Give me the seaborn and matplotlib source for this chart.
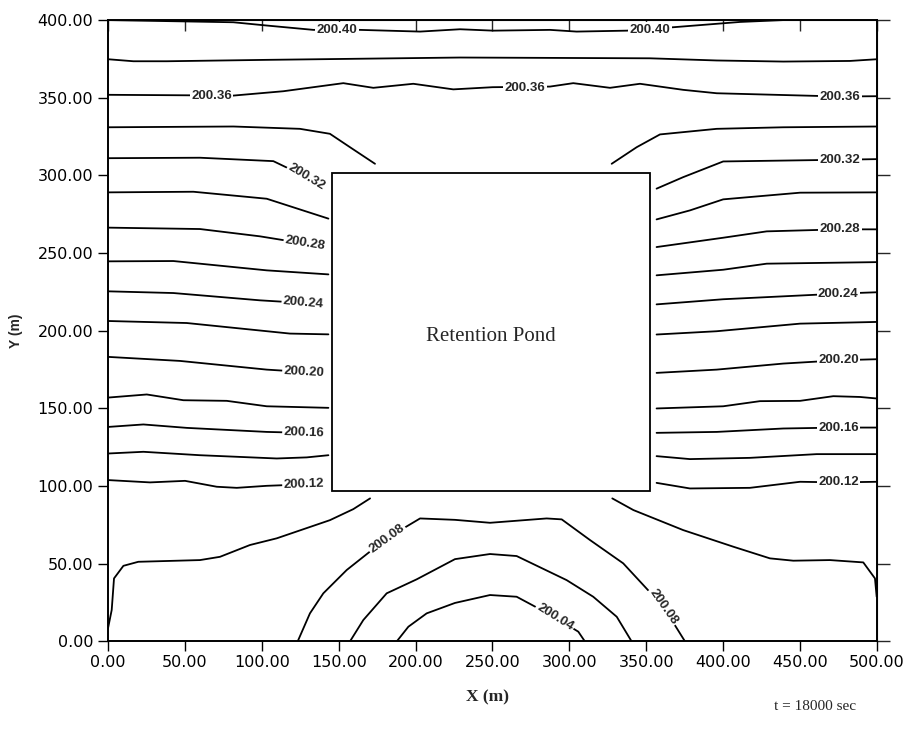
import numpy as np
import pandas as pd
import matplotlib
matplotlib.use("Agg")
import matplotlib.pyplot as plt
from matplotlib.patches import Rectangle
import seaborn as sns

# ---- contour lines (X, Y in metres) ----
c2040_x = [0, 81.5, 103.2, 133.5, 163.8, 202.9, 228.9, 250.5, 287.4, 304.7, 337.3, 367.6, 410.9, 439, 500]
c2040_y = [400, 398.6, 396.5, 393.7, 393.7, 392.6, 394.1, 393.2, 393.7, 392.6, 393.2, 395.4, 398.8, 400, 400]

c2038_x = [0, 16.5, 38.2, 103.2, 228.9, 352.4, 395.8, 439.1, 482.4, 500]
c2038_y = [374.8, 373.5, 373.5, 374.4, 375.9, 375.4, 374.0, 373.3, 373.7, 374.8]

c2036_x = [0, 81.5, 114, 153, 172.5, 198.5, 224.5, 250, 287.4, 302.5, 326.4, 345.9, 374, 395.8, 475.9, 500]
c2036_y = [351.9, 351.4, 354.2, 359.4, 356.4, 359.0, 355.4, 356.8, 357.2, 359.4, 356.4, 359.0, 355.1, 352.9, 350.8, 351.0]

c2034a_x = [0, 81.5, 124.8, 144.3, 157.3, 173.6]
c2034a_y = [331.0, 331.5, 330.0, 326.8, 318.2, 307.5]
c2034b_x = [327.5, 343.8, 358.9, 395.8, 439.1, 500]
c2034b_y = [307.5, 318.2, 326.4, 330.0, 331.0, 331.5]

c2032a_x = [0, 59.8, 107.5, 129.2]
c2032a_y = [311.1, 311.4, 309.2, 298.9]
c2032b_x = [356.7, 374, 400, 475.9, 500]
c2032b_y = [291.5, 298.9, 309.0, 310.1, 310.5]

c2030a_x = [0, 55.5, 103.2, 143.3]
c2030a_y = [289.1, 289.5, 285.0, 272.2]
c2030b_x = [356.7, 378.4, 400, 450, 500]
c2030b_y = [271.7, 277.5, 284.6, 288.9, 289.1]

c2028a_x = [0, 59.8, 98.8, 128.1]
c2028a_y = [266.4, 265.5, 260.8, 256.1]
c2028b_x = [356.7, 400, 428.3, 475.9, 500]
c2028b_y = [253.9, 259.9, 264.0, 265.3, 265.3]

c2026a_x = [0, 42.5, 103.2, 143.3]
c2026a_y = [244.7, 244.9, 238.9, 236.3]
c2026b_x = [356.7, 400, 428.3, 500]
c2026b_y = [235.7, 239.3, 243.2, 244.2]

c2024a_x = [0, 42.5, 98.8, 127]
c2024a_y = [225.4, 224.3, 219.6, 217.9]
c2024b_x = [356.7, 400, 474.9, 500]
c2024b_y = [217.0, 220.3, 223.9, 224.8]

c2022a_x = [0, 51.2, 118.3, 143.3]
c2022a_y = [206.3, 205.0, 198.2, 197.7]
c2022b_x = [356.7, 395.7, 450, 500]
c2022b_y = [197.6, 199.7, 204.6, 205.7]

c2020a_x = [0, 46.8, 103.2, 127.4]
c2020a_y = [183.2, 180.6, 175.0, 173.5]
c2020b_x = [356.7, 395.8, 439.1, 474.9, 500]
c2020b_y = [172.9, 175.0, 178.9, 181.0, 181.7]

c2018a_x = [0, 25.2, 49, 77.2, 103.2, 143.3]
c2018a_y = [157.0, 159.0, 155.3, 154.9, 151.4, 150.4]
c2018b_x = [356.7, 400, 423.9, 450, 471.6, 488.9, 500]
c2018b_y = [150.0, 151.4, 154.7, 154.9, 157.9, 157.4, 156.4]

c2016a_x = [0, 23, 51.2, 103.2, 127.4]
c2016a_y = [138.1, 139.7, 137.5, 134.9, 134.3]
c2016b_x = [356.7, 395.8, 439.1, 474.9, 500]
c2016b_y = [134.3, 134.9, 137.1, 137.7, 137.7]

c2014a_x = [0, 23, 59.8, 109.7, 129.2, 143.3]
c2014a_y = [121.0, 122.1, 119.9, 117.8, 118.5, 119.9]
c2014b_x = [356.7, 378.4, 417.4, 460.8, 500]
c2014b_y = [119.3, 117.4, 118.2, 120.6, 120.6]

c2012a_x = [0, 27.3, 50.1, 70.7, 83.7, 103.2, 127.4]
c2012a_y = [103.9, 102.4, 103.4, 99.6, 98.9, 100.2, 101.1]
c2012b_x = [356.7, 378.4, 417.4, 450, 474.9, 500]
c2012b_y = [102.1, 98.5, 98.9, 102.8, 102.4, 102.8]

c2010a_x = [0, 2.4, 3.9, 10, 19.7, 59.8, 72.8, 92.3, 109.7, 144.3, 159.5, 170.4]
c2010a_y = [8.5, 20.3, 40.6, 48.7, 51.3, 52.4, 54.5, 62.1, 66.4, 78.1, 85.2, 92.1]
c2010b_x = [327.9, 341.6, 374, 406.6, 430.4, 445.6, 469.4, 491.1, 498.7, 499.8]
c2010b_y = [92.1, 84.6, 71.7, 61.0, 53.5, 52.0, 52.4, 50.9, 40.6, 28.8]

c2008_x = [123.3, 131.3, 140, 155.2, 181.2, 202.9, 225.6, 248.4, 285.2, 295, 313.4, 335, 361.1, 375.2]
c2008_y = [0, 18.1, 31.0, 46.0, 66.4, 79.2, 78.3, 76.4, 79.2, 78.6, 65.3, 50.3, 22.4, 0]

c2006_x = [157.3, 166, 181.2, 200.7, 225.6, 248.4, 265.7, 298.2, 315.5, 330.8, 340.5]
c2006_y = [0, 13.8, 31.0, 40.0, 53.0, 56.3, 55.0, 39.5, 28.8, 15.9, 0]

c2004_x = [187.7, 195.3, 207.2, 225.6, 248.4, 265.7, 290.6, 305.8, 310.1]
c2004_y = [0, 9.5, 18.1, 24.8, 29.9, 28.8, 15.6, 6.3, 0]

contour_lines = [
    (c2040_x, c2040_y), (c2038_x, c2038_y), (c2036_x, c2036_y),
    (c2034a_x, c2034a_y), (c2034b_x, c2034b_y),
    (c2032a_x, c2032a_y), (c2032b_x, c2032b_y),
    (c2030a_x, c2030a_y), (c2030b_x, c2030b_y),
    (c2028a_x, c2028a_y), (c2028b_x, c2028b_y),
    (c2026a_x, c2026a_y), (c2026b_x, c2026b_y),
    (c2024a_x, c2024a_y), (c2024b_x, c2024b_y),
    (c2022a_x, c2022a_y), (c2022b_x, c2022b_y),
    (c2020a_x, c2020a_y), (c2020b_x, c2020b_y),
    (c2018a_x, c2018a_y), (c2018b_x, c2018b_y),
    (c2016a_x, c2016a_y), (c2016b_x, c2016b_y),
    (c2014a_x, c2014a_y), (c2014b_x, c2014b_y),
    (c2012a_x, c2012a_y), (c2012b_x, c2012b_y),
    (c2010a_x, c2010a_y), (c2010b_x, c2010b_y),
    (c2008_x, c2008_y), (c2006_x, c2006_y), (c2004_x, c2004_y),
]

# contour labels: text, x, y, angle
label_text = ["200.40", "200.40", "200.36", "200.36", "200.36",
              "200.32", "200.32", "200.28", "200.28", "200.24", "200.24",
              "200.20", "200.20", "200.16", "200.16", "200.12", "200.12",
              "200.08", "200.08", "200.04"]
label_x = [148.7, 352.4, 67.4, 271.1, 475.9,
           129.2, 475.9, 128.1, 475.9, 127.0, 474.9,
           127.4, 474.9, 127.4, 474.9, 127.4, 474.9,
           181.2, 361.1, 290.6]
label_y = [393.7, 393.7, 351.0, 356.6, 350.8,
           298.9, 310.1, 256.1, 265.3, 217.9, 223.9,
           173.5, 181.0, 134.3, 137.7, 101.1, 102.4,
           66.4, 22.4, 15.6]
label_rot = [0, 0, 0, 0, 0,
             -31, 0, -9, 0, -5, 0,
             -3, 0, -2, 0, 2, 0,
             36, -55, -32]

# retention pond outline (m)
pond_x = [145.4, 352.6]
pond_y = [96.6, 301.5]

x_ticks = np.arange(0, 501, 50)
y_ticks = np.arange(0, 401, 50)

sns.set_style("ticks")
plt.rcParams["font.family"] = ["DejaVu Sans"]

fig = plt.figure(figsize=(9.1, 7.44), dpi=100)
ax = fig.add_axes([0.1187, 0.1378, 0.9637 - 0.1187, 0.973 - 0.1378])

for xs, ys in contour_lines:
    sns.lineplot(x=xs, y=ys, sort=False, estimator=None, color="black",
                 linewidth=1.3, ax=ax, zorder=2)

for t, lx, ly, r in zip(label_text, label_x, label_y, label_rot):
    ax.text(lx, ly, t, rotation=r, rotation_mode="anchor", ha="center", va="center",
            fontsize=9.5, fontweight="bold", family="Liberation Sans", zorder=4,
            bbox=dict(facecolor="white", edgecolor="none", pad=1.0))

ax.add_patch(Rectangle((pond_x[0], pond_y[0]), pond_x[1] - pond_x[0], pond_y[1] - pond_y[0],
                       facecolor="white", edgecolor="black", linewidth=1.3, zorder=3))
ax.text(sum(pond_x) / 2, 196, "Retention Pond", ha="center", va="center",
        fontsize=15, family="Liberation Serif", zorder=5)

ax.set_xlim(0, 500)
ax.set_ylim(0, 400)
ax.set_xticks(x_ticks)
ax.set_yticks(y_ticks)
ax.set_xticklabels([f"{v:.2f}" for v in x_ticks], fontsize=11.5)
ax.set_yticklabels([f"{v:.2f}" for v in y_ticks], fontsize=11.5)
for s in ax.spines.values():
    s.set_visible(True)
    s.set_linewidth(1.4)
    s.set_color("black")
ax.tick_params(axis="both", which="major", direction="out", length=7, width=1.0, colors="black",
               top=False, right=False)
ax.tick_params(axis="x", pad=3)

# inward top ticks and outward right ticks, as on the original plot
sec_top = ax.secondary_xaxis("top")
sec_top.set_xticks(x_ticks)
sec_top.set_xticklabels([])
sec_top.tick_params(direction="in", length=8, width=1.0)
sec_right = ax.secondary_yaxis("right")
sec_right.set_yticks(y_ticks)
sec_right.set_yticklabels([])
sec_right.tick_params(direction="out", length=9, width=1.0)

ax.set_xlabel("")
ax.set_ylabel("")
fig.text(488 / 910, 1 - 697 / 744, "X (m)", ha="center", va="center",
         fontsize=12.5, fontweight="bold", family="Liberation Serif")
fig.text(16 / 910, 1 - 331 / 744, "Y (m)", ha="center", va="center", rotation=90,
         fontsize=10, fontweight="bold", family="Liberation Sans")
fig.text(815 / 910, 1 - 706 / 744, "t = 18000 sec", ha="center", va="center",
         fontsize=11, family="Liberation Serif")

fig.savefig("out.png", dpi=100)
